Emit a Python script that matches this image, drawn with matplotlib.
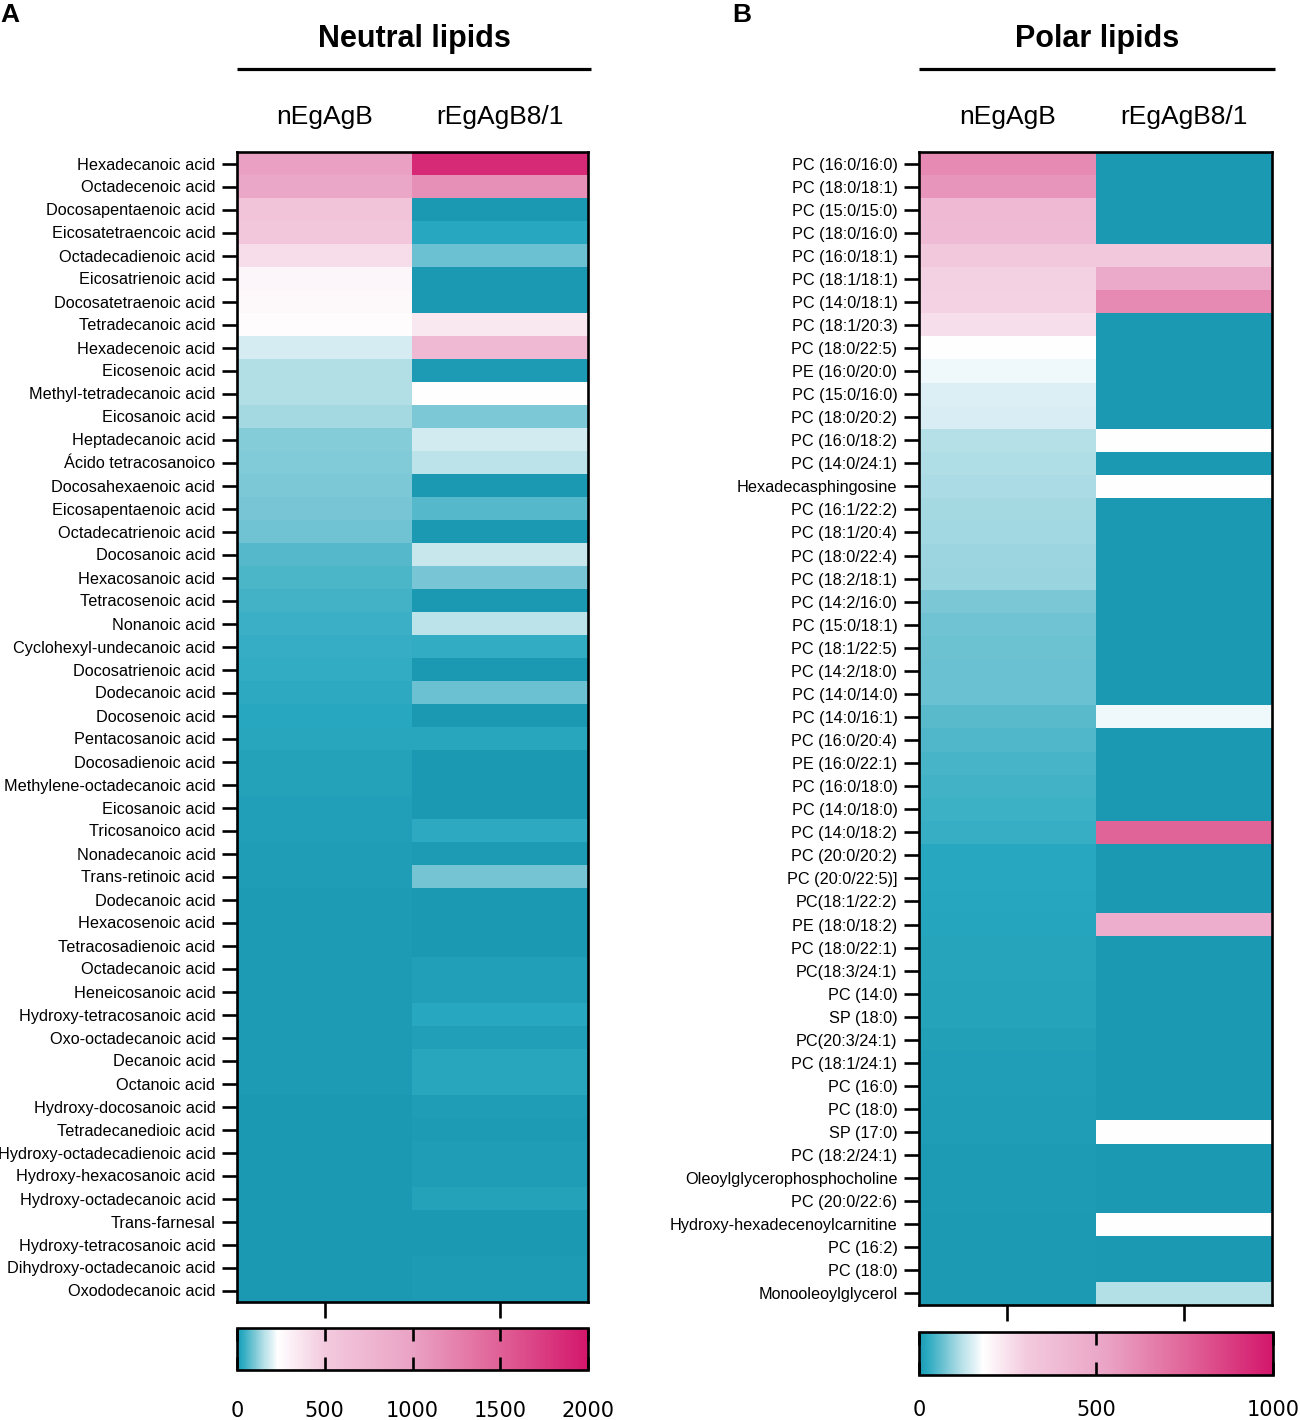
import matplotlib
matplotlib.use('Agg')
import matplotlib.pyplot as plt
from matplotlib.colors import LinearSegmentedColormap, Normalize
from matplotlib.transforms import blended_transform_factory
import numpy as np

plt.rcParams['font.family'] = ['Liberation Sans', 'DejaVu Sans']

groups = ["nEgAgB", "rEgAgB8/1"]

neutral_labels = [
    "Hexadecanoic acid", "Octadecenoic acid", "Docosapentaenoic acid", "Eicosatetraencoic acid",
    "Octadecadienoic acid", "Eicosatrienoic acid", "Docosatetraenoic acid", "Tetradecanoic acid",
    "Hexadecenoic acid", "Eicosenoic acid", "Methyl-tetradecanoic acid", "Eicosanoic acid",
    "Heptadecanoic acid", "Ácido tetracosanoico", "Docosahexaenoic acid", "Eicosapentaenoic acid",
    "Octadecatrienoic acid", "Docosanoic acid", "Hexacosanoic acid", "Tetracosenoic acid",
    "Nonanoic acid", "Cyclohexyl-undecanoic acid", "Docosatrienoic acid", "Dodecanoic acid",
    "Docosenoic acid", "Pentacosanoic acid", "Docosadienoic acid", "Methylene-octadecanoic acid",
    "Eicosanoic acid", "Tricosanoico acid", "Nonadecanoic acid", "Trans-retinoic acid",
    "Dodecanoic acid", "Hexacosenoic acid", "Tetracosadienoic acid", "Octadecanoic acid",
    "Heneicosanoic acid", "Hydroxy-tetracosanoic acid", "Oxo-octadecanoic acid", "Decanoic acid",
    "Octanoic acid", "Hydroxy-docosanoic acid", "Tetradecanedioic acid", "Hydroxy-octadecadienoic acid",
    "Hydroxy-hexacosanoic acid", "Hydroxy-octadecanoic acid", "Trans-farnesal", "Hydroxy-tetracosanoic acid",
    "Dihydroxy-octadecanoic acid", "Oxododecanoic acid",
]
neutral_n = [1014, 927, 560, 535, 400, 280, 265, 245, 190, 151, 149, 138, 112, 108, 104, 101, 92, 68, 62, 53,
             46, 42, 37, 34, 30, 27, 19, 17, 15, 13, 10, 8, 7, 6, 6, 5, 5, 5, 4, 4,
             4, 3, 3, 3, 3, 2, 2, 2, 2, 1]
neutral_r = [1860, 1133, 0, 28, 89, 0, 0, 340, 713, 5, 237, 103, 185, 163, 3, 69, 2, 174, 100, 2,
             161, 36, 1, 87, 3, 27, 2, 2, 2, 35, 5, 94, 1, 2, 1, 13, 13, 28, 14, 24,
             24, 9, 6, 9, 9, 19, 3, 2, 5, 5]

polar_labels = [
    "PC (16:0/16:0)", "PC (18:0/18:1)", "PC (15:0/15:0)", "PC (18:0/16:0)", "PC (16:0/18:1)",
    "PC (18:1/18:1)", "PC (14:0/18:1)", "PC (18:1/20:3)", "PC (18:0/22:5)", "PE (16:0/20:0)",
    "PC (15:0/16:0)", "PC (18:0/20:2)", "PC (16:0/18:2)", "PC (14:0/24:1)", "Hexadecasphingosine",
    "PC (16:1/22:2)", "PC (18:1/20:4)", "PC (18:0/22:4)", "PC (18:2/18:1)", "PC (14:2/16:0)",
    "PC (15:0/18:1)", "PC (18:1/22:5)", "PC (14:2/18:0)", "PC (14:0/14:0)", "PC (14:0/16:1)",
    "PC (16:0/20:4)", "PE (16:0/22:1)", "PC (16:0/18:0)", "PC (14:0/18:0)", "PC (14:0/18:2)",
    "PC (20:0/20:2)", "PC (20:0/22:5)]", "PC(18:1/22:2)", "PE (18:0/18:2)", "PC (18:0/22:1)",
    "PC(18:3/24:1)", "PC (14:0)", "SP (18:0)", "PC(20:3/24:1)", "PC (18:1/24:1)",
    "PC (16:0)", "PC (18:0)", "SP (17:0)", "PC (18:2/24:1)", "Oleoylglycerophosphocholine",
    "PC (20:0/22:6)", "Hydroxy-hexadecenoylcarnitine", "PC (16:2)", "PC (18:0)", "Monooleoylglycerol",
]
polar_n = [618, 582, 397, 393, 314, 287, 284, 254, 183, 168, 153, 151, 120, 116, 112, 109, 107, 103, 101, 80,
           72, 69, 68, 67, 56, 50, 44, 41, 37, 33, 23, 22, 20, 18, 17, 16, 15, 14, 10, 9,
           8, 7, 6, 5, 5, 4, 3, 3, 2, 2]
polar_r = [0, 0, 0, 0, 311, 491, 618, 0, 0, 0, 0, 0, 180, 0, 180, 0, 0, 0, 0, 0,
           0, 0, 0, 0, 168, 0, 0, 0, 0, 754, 0, 0, 0, 467, 0, 0, 0, 0, 0, 0,
           0, 0, 180, 0, 0, 0, 182, 0, 0, 119]

neutral_ticks = [0, 500, 1000, 1500, 2000]
polar_ticks = [0, 500, 1000]


def make_cmap(w):
    teal = [(0.0, '#1c99b2'), (0.12, '#29a9c1'), (0.4, '#72c4d3'), (0.65, '#b3dfe7'),
            (0.85, '#dcf0f5'), (1.0, '#ffffff')]
    pink = [(0.15, '#f3cade'), (0.43, '#eaa3c5'), (0.72, '#e06096'), (1.0, '#d3166b')]
    nodes = [(f * w, c) for f, c in teal] + [(w + (1 - w) * s, c) for s, c in pink]
    return LinearSegmentedColormap.from_list('tp', nodes, N=512)


W, H = 1300, 1420
fig = plt.figure(figsize=(W / 100, H / 100), dpi=100)


def rect(x0, y0, x1, y1):
    return [x0 / W, 1 - y1 / H, (x1 - x0) / W, (y1 - y0) / H]


def panel(hm_px, cb_px, labels, nv, rv, vmax, white, ticks, title, letter, letter_x, cb_pad):
    ax = fig.add_axes(rect(*hm_px))
    data = np.column_stack([nv, rv])
    im = ax.imshow(data, aspect='auto', cmap=make_cmap(white / vmax),
                   norm=Normalize(0, vmax), interpolation='nearest')
    ax.set_yticks(range(len(labels)))
    ax.set_yticklabels(labels, fontsize=11.7)
    ax.set_xticks([0, 1])
    ax.set_xticklabels([])
    ax.tick_params(axis='y', length=10.5, width=1.9, pad=5, direction='out')
    ax.tick_params(axis='x', length=11.5, width=1.9, direction='out')
    for s in ax.spines.values():
        s.set_linewidth(1.9)
    tr = blended_transform_factory(ax.transData, ax.transAxes)
    for i, g in enumerate(groups):
        ax.text(i, 1.0304, g, transform=tr, ha='center', va='center', fontsize=19)
    ax.plot([0, 1.008], [1.072, 1.072], transform=ax.transAxes, color='black',
            lw=2.3, clip_on=False, solid_capstyle='butt')
    ax.text(0.505, 1.098, title, transform=ax.transAxes, ha='center', va='center',
            fontsize=22, fontweight='bold')
    fig.text(letter_x / W, 1 - 15 / H, letter, ha='left', va='center',
             fontsize=19, fontweight='bold')

    cax = fig.add_axes(rect(*cb_px))
    cb = fig.colorbar(im, cax=cax, orientation='horizontal', ticks=ticks)
    cb.outline.set_linewidth(1.9)
    cax.tick_params(axis='x', direction='in', length=9.5, width=1.9, top=True,
                    bottom=True, labelsize=15, pad=cb_pad)
    for t in cax.get_xticklabels():
        t.set_family('DejaVu Sans')
    return ax


panel((237, 152, 588, 1302), (237, 1328, 588, 1370), neutral_labels, neutral_n, neutral_r,
      2000, 230, neutral_ticks, "Neutral lipids", "A", 0, 22)
panel((919, 152, 1272, 1305), (919, 1332, 1273, 1375), polar_labels, polar_n, polar_r,
      1000, 180, polar_ticks, "Polar lipids", "B", 732, 18)

fig.savefig('out.png', dpi=100)
